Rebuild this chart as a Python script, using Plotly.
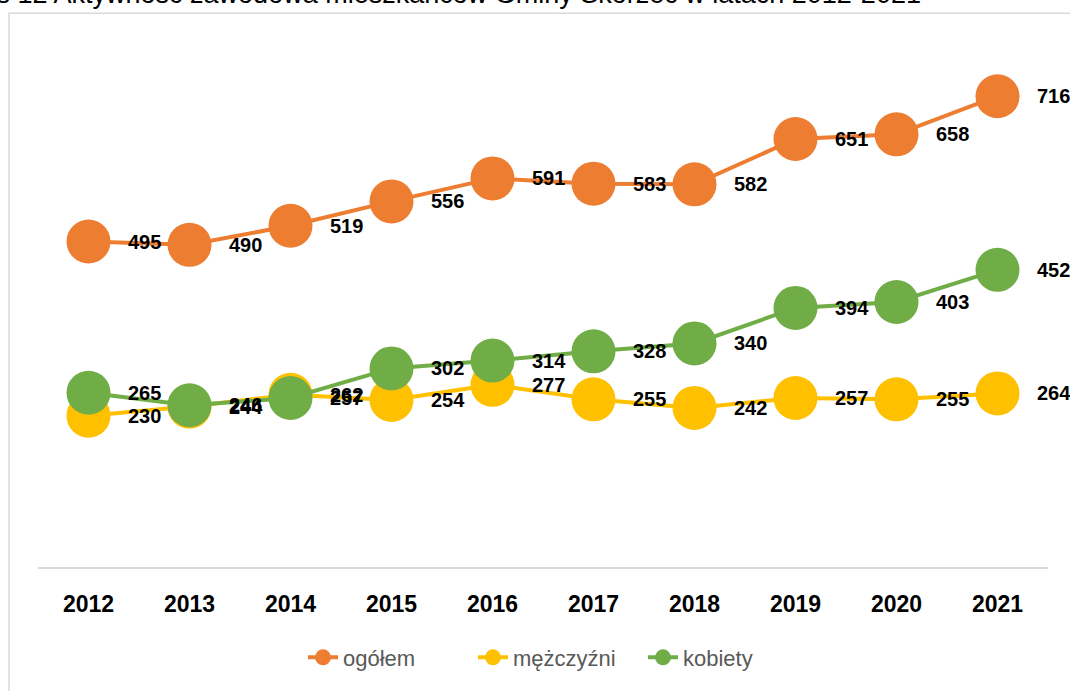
import plotly.graph_objects as go

years = [2012, 2013, 2014, 2015, 2016, 2017, 2018, 2019, 2020, 2021]
year_labels = ["2012", "2013", "2014", "2015", "2016", "2017", "2018", "2019", "2020", "2021"]
ogolem = [495, 490, 519, 556, 591, 583, 582, 651, 658, 716]
mezczyzni = [230, 244, 262, 254, 277, 255, 242, 257, 255, 264]
kobiety = [265, 246, 257, 302, 314, 328, 340, 394, 403, 452]

series = [
    ("ogółem", ogolem, "#ED7D31"),
    ("mężczyźni", mezczyzni, "#FFC000"),
    ("kobiety", kobiety, "#70AD47"),
]

title_text = "cs 12 Aktywność zawodowa mieszkańców Gminy Skórzec w latach 2012-2021"

W, H = 1070, 691
PL, PR, PT, PB = 38, 1048, 41, 570  # plot area in page pixels
L, R, T, B = PL, W - PR, PT, H - PB
pw, ph = W - L - R, H - T - B

def px_x(x):
    return (x - L) / pw

def px_y(y):
    return (H - B - y) / ph

fig = go.Figure()
for name, vals, col in series:
    fig.add_trace(go.Scatter(
        x=years, y=vals, name=name, mode="lines+markers",
        line=dict(color=col, width=4),
        marker=dict(color=col, size=44),
        cliponaxis=False,
    ))

annotations = []
for name, vals, col in series:
    for yr, v in zip(years, vals):
        annotations.append(dict(
            x=yr, y=v, xref="x", yref="y", text=f"<b>{v}</b>",
            showarrow=False, xshift=56, xanchor="center", yanchor="middle",
            font=dict(family="Liberation Sans", size=20, color="#000000"),
        ))

annotations.append(dict(
    x=px_x(923), y=px_y(-6), xref="paper", yref="paper", text=title_text,
    showarrow=False, xanchor="right", yanchor="middle",
    font=dict(family="Liberation Sans", size=27, color="#000000"),
))

fig.update_layout(
    width=W, height=H,
    margin=dict(l=L, r=R, t=T, b=B),
    paper_bgcolor="white", plot_bgcolor="white",
    showlegend=True,
    legend=dict(
        orientation="h", x=px_x(303), xanchor="left", y=px_y(661), yanchor="middle",
        font=dict(family="Liberation Sans", size=22, color="#595959"),
        itemwidth=30, entrywidth=125, entrywidthmode="pixels",
    ),
    xaxis=dict(
        range=[2011.5, 2021.5], showgrid=False, zeroline=False,
        showline=True, linecolor="#D9D9D9", linewidth=2,
        ticks="", ticklabelstandoff=15,
        tickvals=years, ticktext=[f"<b>{t}</b>" for t in year_labels],
        tickfont=dict(family="Liberation Sans", size=23, color="#000000"),
    ),
    yaxis=dict(range=[0, 800], visible=False, showgrid=False, zeroline=False),
    annotations=annotations,
    shapes=[dict(
        type="rect", xref="paper", yref="paper",
        x0=px_x(9), x1=px_x(1090), y0=px_y(710), y1=px_y(13),
        line=dict(color="#D9D9D9", width=1.5), fillcolor="rgba(0,0,0,0)",
        layer="below",
    )],
)

fig.write_html(
    "out.html",
    config={"displayModeBar": False},
    post_script="document.body.style.margin='0';document.documentElement.style.overflow='hidden';",
)
